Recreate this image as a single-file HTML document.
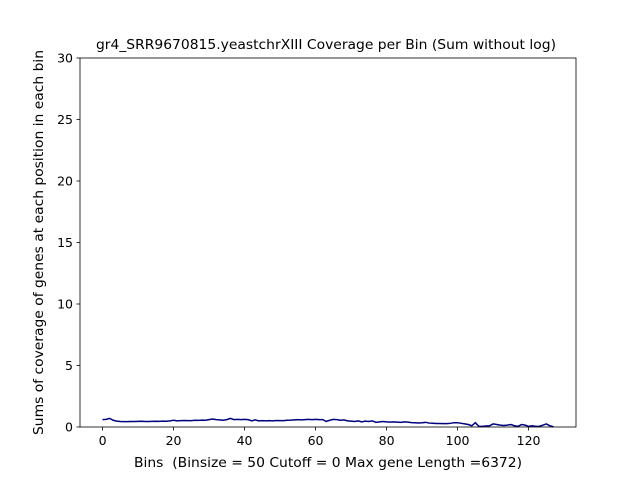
<!DOCTYPE html>
<html><head><meta charset="utf-8"><style>
body{margin:0;background:#fff}
svg text{font-family:"DejaVu Sans","Liberation Sans",sans-serif;fill:#000;white-space:pre}
</style></head><body>
<svg width="640" height="480">
<rect width="640" height="480" fill="#fff"/>
<g id="plot"></g>
</svg>
<script>
const yTicks=[0,5,10,15,20,25,30];
const xTicks=[0,20,40,60,80,100,120];
const values=[0.6,0.62,0.7,0.55,0.48,0.45,0.44,0.44,0.45,0.45,0.46,0.47,0.45,0.45,0.46,0.47,0.46,0.48,0.47,0.5,0.55,0.5,0.52,0.53,0.52,0.52,0.55,0.54,0.56,0.55,0.6,0.65,0.6,0.58,0.55,0.6,0.7,0.6,0.62,0.6,0.62,0.6,0.5,0.58,0.5,0.52,0.5,0.52,0.5,0.53,0.52,0.52,0.55,0.56,0.58,0.6,0.58,0.6,0.62,0.6,0.62,0.6,0.6,0.45,0.55,0.62,0.6,0.55,0.58,0.5,0.48,0.45,0.5,0.42,0.48,0.45,0.5,0.38,0.42,0.45,0.42,0.4,0.42,0.4,0.38,0.42,0.4,0.36,0.35,0.33,0.35,0.38,0.32,0.3,0.28,0.28,0.27,0.27,0.3,0.35,0.35,0.3,0.25,0.2,0.1,0.35,0.05,0.05,0.08,0.1,0.25,0.2,0.15,0.12,0.15,0.2,0.1,0.05,0.2,0.15,0.05,0.1,0.05,0.05,0.15,0.25,0.1,0.02];
const L=80,R=576,T=58,B=427,xmin=-6.35,xmax=133.35,ymax=30;
const X=v=>L+(v-xmin)/(xmax-xmin)*(R-L);
const Y=v=>B-v/ymax*(B-T);
const ns="http://www.w3.org/2000/svg",g=document.getElementById('plot');
function mk(t,a,txt){const e=document.createElementNS(ns,t);for(const k in a)e.setAttribute(k,a[k]);if(txt!=null)e.textContent=txt;g.appendChild(e);return e;}
const pl=mk('polyline',{points:values.map((v,i)=>X(i)+','+Y(v)).join(' '),fill:'none',stroke:'#00007f','stroke-width':1.5});


const fr=mk('rect',{x:L,y:T,width:R-L,height:B-T,fill:'none',stroke:'#000','stroke-width':0.8});


yTicks.forEach(v=>{mk('line',{x1:L-3.5,x2:L,y1:Y(v),y2:Y(v),stroke:'#000','stroke-width':0.8});
const t=mk('text',{x:L-7,y:Y(v)+4.5,'text-anchor':'end','font-size':12.5},v);

});
xTicks.forEach(v=>{mk('line',{x1:X(v),x2:X(v),y1:B,y2:B+3.5,stroke:'#000','stroke-width':0.8});
const t=mk('text',{x:X(v),y:B+18,'text-anchor':'middle','font-size':12.5},v);

});
const ti=mk('text',{x:96,y:49,'font-size':13.5,textLength:460,lengthAdjust:'spacingAndGlyphs'},'gr4_SRR9670815.yeastchrXIII Coverage per Bin (Sum without log)');


const xl=mk('text',{x:134,y:467,'font-size':13.5,textLength:388,lengthAdjust:'spacingAndGlyphs'},'Bins  (Binsize = 50 Cutoff = 0 Max gene Length =6372)');


const yl=mk('text',{x:0,y:0,'font-size':13.5,textLength:385,lengthAdjust:'spacingAndGlyphs',transform:'translate(43,435) rotate(-90)'},'Sums of coverage of genes at each position in each bin');


</script>
</body></html>
